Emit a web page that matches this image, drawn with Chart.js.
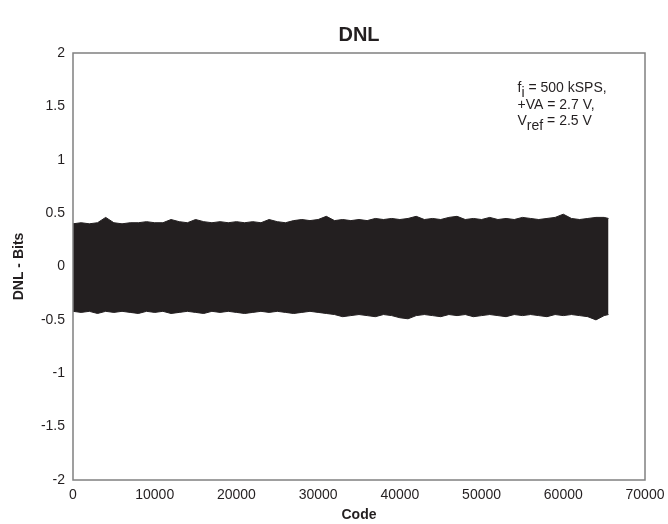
<!DOCTYPE html>
<html>
<head>
<meta charset="utf-8">
<script src="https://cdn.jsdelivr.net/npm/chart.js@4"></script>
<style>
  html, body { margin: 0; padding: 0; background: #fff; }
  #wrap { width: 668px; height: 524px; }
</style>
</head>
<body>
<div id="wrap"><canvas id="dnlChart" width="668" height="524"></canvas></div>
<script>
// envelope of the DNL band
const codes = [
  0, 1000, 2000, 3000, 4000, 5000, 6000, 7000, 8000, 9000,
  10000, 11000, 12000, 13000, 14000, 15000, 16000, 17000, 18000, 19000,
  20000, 21000, 22000, 23000, 24000, 25000, 26000, 27000, 28000, 29000,
  30000, 31000, 32000, 33000, 34000, 35000, 36000, 37000, 38000, 39000,
  40000, 41000, 42000, 43000, 44000, 45000, 46000, 47000, 48000, 49000,
  50000, 51000, 52000, 53000, 54000, 55000, 56000, 57000, 58000, 59000,
  60000, 61000, 62000, 63000, 64000, 65000, 65535,
];
const dnlMax = [
  0.40, 0.41, 0.40, 0.41, 0.46, 0.41, 0.40, 0.41, 0.41, 0.42,
  0.41, 0.41, 0.44, 0.42, 0.41, 0.44, 0.42, 0.41, 0.42, 0.41,
  0.42, 0.41, 0.42, 0.41, 0.44, 0.42, 0.41, 0.43, 0.44, 0.43,
  0.44, 0.47, 0.43, 0.44, 0.43, 0.44, 0.43, 0.45, 0.44, 0.45,
  0.44, 0.45, 0.47, 0.44, 0.45, 0.44, 0.46, 0.47, 0.44, 0.45,
  0.44, 0.46, 0.44, 0.45, 0.44, 0.46, 0.45, 0.44, 0.45, 0.46,
  0.49, 0.45, 0.44, 0.45, 0.46, 0.46, 0.45,
];
const dnlMin = [
  -0.42, -0.43, -0.42, -0.44, -0.42, -0.43, -0.42, -0.43, -0.44, -0.42,
  -0.43, -0.42, -0.44, -0.43, -0.42, -0.43, -0.44, -0.42, -0.43, -0.42,
  -0.43, -0.44, -0.43, -0.42, -0.43, -0.42, -0.43, -0.44, -0.43, -0.42,
  -0.43, -0.44, -0.45, -0.47, -0.46, -0.45, -0.46, -0.47, -0.45, -0.46,
  -0.48, -0.49, -0.46, -0.45, -0.46, -0.47, -0.45, -0.46, -0.45, -0.47,
  -0.46, -0.45, -0.46, -0.47, -0.45, -0.46, -0.45, -0.46, -0.47, -0.45,
  -0.46, -0.45, -0.46, -0.47, -0.50, -0.46, -0.45,
];
const xTicks = [0, 10000, 20000, 30000, 40000, 50000, 60000, 70000];
const yTicks = [-2, -1.5, -1, -0.5, 0, 0.5, 1, 1.5, 2];
const noteLines = [
  ["f", "i", " = 500 kSPS,"],
  ["+VA = 2.7 V,", "", ""],
  ["V", "ref", " = 2.5 V"],
];

const ink = "#231f20";
const font = "'Liberation Sans', Arial, sans-serif";

const upper = codes.map((c, i) => ({ x: c, y: dnlMax[i] }));
const lower = codes.map((c, i) => ({ x: c, y: dnlMin[i] }));

// frame, title and condition note
const decor = {
  id: "decor",
  afterDraw(chart) {
    const { ctx, chartArea: a, scales } = chart;
    ctx.save();
    ctx.strokeStyle = "#808080";
    ctx.lineWidth = 1.5;
    ctx.strokeRect(a.left, a.top, a.right - a.left, a.bottom - a.top);

    ctx.fillStyle = ink;
    ctx.font = "bold 20px " + font;
    ctx.textAlign = "center";
    ctx.textBaseline = "middle";
    ctx.fillText("DNL", (a.left + a.right) / 2, 35);

    ctx.textAlign = "left";
    ctx.textBaseline = "alphabetic";
    let x0 = scales.x.getPixelForValue(54400);
    let y = scales.y.getPixelForValue(1.63);
    noteLines.forEach(([main, sub, rest]) => {
      let x = x0;
      ctx.font = "14px " + font;
      ctx.fillText(main, x, y);
      x += ctx.measureText(main).width;
      if (sub) {
        ctx.fillText(sub, x, y + 5);
        x += ctx.measureText(sub).width;
      }
      if (rest) {
        ctx.fillText(rest, x, y);
      }
      y += 16.5;
    });
    ctx.restore();
  },
};

new Chart(document.getElementById("dnlChart"), {
  type: "line",
  data: {
    datasets: [
      {
        label: "max",
        data: upper,
        borderColor: ink,
        backgroundColor: ink,
        borderWidth: 1,
        pointRadius: 0,
        tension: 0,
        fill: "+1",
      },
      {
        label: "min",
        data: lower,
        borderColor: ink,
        backgroundColor: ink,
        borderWidth: 1,
        pointRadius: 0,
        tension: 0,
        fill: false,
      },
    ],
  },
  options: {
    responsive: false,
    animation: false,
    layout: { padding: { top: 53, right: 23, left: 0, bottom: 0 } },
    plugins: {
      legend: { display: false },
      title: { display: false },
      tooltip: { enabled: false },
    },
    scales: {
      x: {
        type: "linear",
        min: 0,
        max: 70000,
        afterBuildTicks: (s) => { s.ticks = xTicks.map((v) => ({ value: v })); },
        afterFit: (s) => { s.height = 44; s.paddingRight = 0; s.paddingLeft = 0; },
        grid: { display: false, drawTicks: false },
        border: { display: false },
        ticks: {
          color: ink,
          padding: 7,
          font: { family: font, size: 14 },
          maxRotation: 0,
          callback: (v) => String(v),
        },
        title: {
          display: true,
          text: "Code",
          color: ink,
          padding: { top: 2, bottom: 0 },
          font: { family: font, size: 14, weight: "bold" },
        },
      },
      y: {
        min: -2,
        max: 2,
        afterBuildTicks: (s) => { s.ticks = yTicks.map((v) => ({ value: v })); },
        afterFit: (s) => { s.width = 73; },
        grid: { display: false, drawTicks: false },
        border: { display: false },
        ticks: {
          color: ink,
          padding: 8,
          font: { family: font, size: 14 },
          callback: (v) => String(v),
        },
        title: {
          display: true,
          text: "DNL - Bits",
          color: ink,
          padding: { top: 11, bottom: 0 },
          font: { family: font, size: 14, weight: "bold" },
        },
      },
    },
  },
  plugins: [decor],
});
</script>
</body>
</html>
